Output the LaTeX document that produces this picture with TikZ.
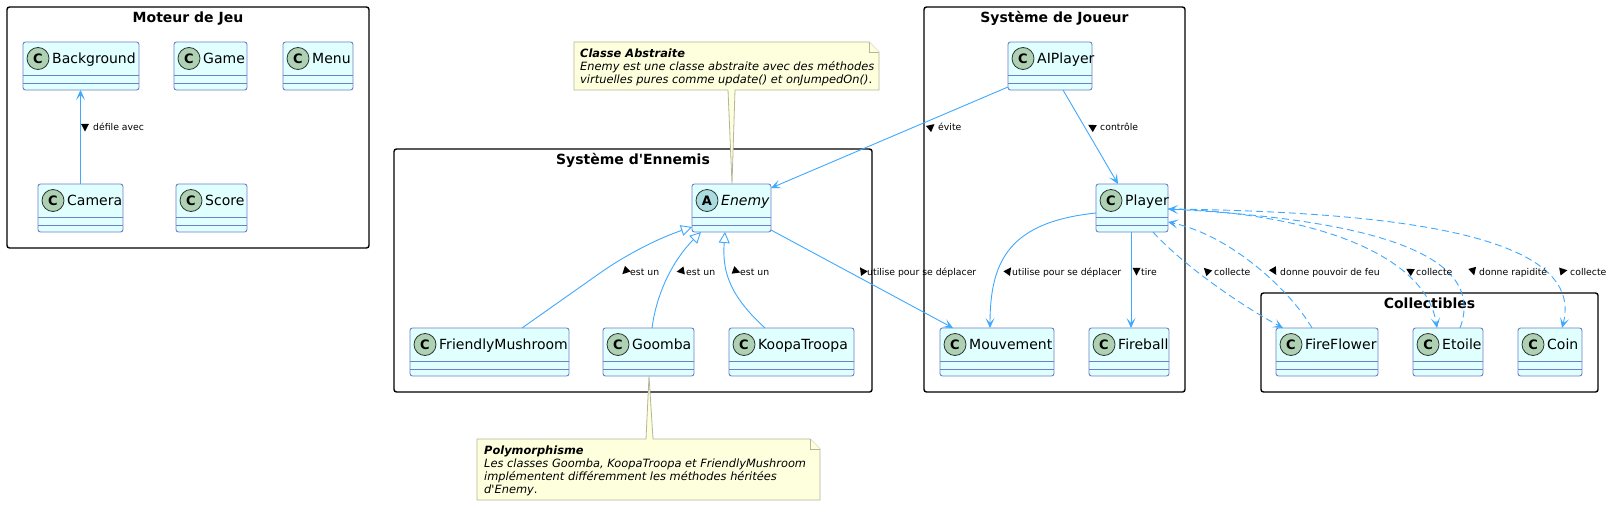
\documentclass[tikz,border=0pt]{standalone}
\usepackage{fontspec}
\setmainfont{DejaVu Sans}[BoldFont={DejaVu Sans Bold},ItalicFont={DejaVu Sans Oblique},BoldItalicFont={DejaVu Sans Bold Oblique}]
\usetikzlibrary{arrows.meta}
\definecolor{clsfill}{HTML}{E0FFFF}
\definecolor{clsline}{HTML}{6E7FC8}
\definecolor{arrowc}{HTML}{3FA9FF}
\definecolor{circC}{HTML}{ADD1B2}
\definecolor{circA}{HTML}{A9DCDF}
\definecolor{notefill}{HTML}{FEFFDD}
\definecolor{noteline}{HTML}{B5B59A}
\tikzset{
  clsbox/.style={draw=clsline, fill=clsfill, line width=0.9pt, rounded corners=2.5pt, minimum height=48pt, inner sep=0pt, outer sep=0pt},
  clssep/.style={draw=clsline, line width=0.9pt},
  circ/.style={circle, draw=black!80, line width=0.8pt, minimum size=22pt, inner sep=0pt, font=\fontsize{13}{13}\selectfont\bfseries},
  clsname/.style={anchor=base west, inner sep=0pt, font=\fontsize{14}{16}\selectfont},
  pkg/.style={draw=black, line width=1.4pt, rounded corners=2.5pt, anchor=north west, inner sep=0pt, outer sep=0pt},
  pkgtitle/.style={anchor=base, inner sep=0pt, font=\fontsize{14}{16}\selectfont\bfseries},
  lbl/.style={anchor=base west, inner sep=0pt, font=\fontsize{9.3}{11}\selectfont},
  assoc/.style={draw=arrowc, line width=0.9pt, -{Stealth[length=10pt,width=9pt,inset=5pt]}},
  dep/.style={assoc, dash pattern=on 7pt off 4pt},
  inh/.style={draw=arrowc, line width=0.9pt, -{Triangle[length=11pt,width=11pt,fill=white]}},
  notebg/.style={draw=noteline, fill=notefill, line width=0.8pt},
  notetxt/.style={anchor=base west, inner sep=0pt, font=\fontsize{11.4}{13}\selectfont\itshape},
  hold/.style={anchor=north west, inner sep=0pt, outer sep=0pt}
}
% #1 id, #2 left, #3 top, #4 width, #5 letter, #6 circle fill, #7 name
\newcommand\umlcls[7]{%
  \node[clsbox, minimum width=#4pt, anchor=north west] (#1) at (#2,#3) {};
  \draw[clssep] ([yshift=-33pt]#1.north west) -- ([yshift=-33pt]#1.north east)
                ([yshift=-41pt]#1.north west) -- ([yshift=-41pt]#1.north east);
  \node[circ, fill=#6] (#1-c) at ([xshift=15pt,yshift=-16.5pt]#1.north west) {#5};
  \node[clsname] (#1-n) at ([xshift=29pt,yshift=-21.5pt]#1.north west) {#7};
}
% direction marker: #1 x, #2 y, #3 angle
\newcommand\dmark[3]{%
  \fill[black, shift={(#1,#2)}, rotate=#3] (4.5pt,0pt) -- (-3.2pt,4pt) -- (-3.2pt,-4pt) -- cycle;
}
\begin{document}
\begin{tikzpicture}[x=1pt,y=-1pt]
\fill[white] (0,0) rectangle (1616,506);
\useasboundingbox (0,0) rectangle (1616,506);

% packages
\node[pkg, minimum width=362pt, minimum height=241pt] (pMoteur) at (7,7) {};
\node[pkgtitle] (pMoteur-t) at ([yshift=-15pt]pMoteur.north) {Moteur de Jeu};
\node[pkg, minimum width=478pt, minimum height=243pt] (pEnn) at (394,149) {};
\node[pkgtitle] (pEnn-t) at ([yshift=-15pt]pEnn.north) {Système d\textquotesingle Ennemis};
\node[pkg, minimum width=261pt, minimum height=385pt] (pJou) at (924,7) {};
\node[pkgtitle] (pJou-t) at ([yshift=-15pt]pJou.north) {Système de Joueur};
\node[pkg, minimum width=337pt, minimum height=99pt] (pCol) at (1261,293) {};
\node[pkgtitle] (pCol-t) at ([yshift=-15pt]pCol.north) {Collectibles};

% notes (placeholders)
\node[hold, minimum width=305pt, minimum height=48pt] (n1) at (574,42) {};
\node[hold, minimum width=343pt, minimum height=61pt] (n2) at (477,439) {};

% classes
\umlcls{bg}{23}{42}{116}{C}{circC}{Background}
\umlcls{game}{174}{42}{73}{C}{circC}{Game}
\umlcls{menu}{283}{42}{70}{C}{circC}{Menu}
\umlcls{cam}{38}{184}{85}{C}{circC}{Camera}
\umlcls{score}{176}{184}{71}{C}{circC}{Score}
\umlcls{en}{692}{184}{79}{A}{circA}{\itshape Enemy}
\umlcls{fm}{410}{328}{159}{C}{circC}{FriendlyMushroom}
\umlcls{gb}{603}{328}{91}{C}{circC}{Goomba}
\umlcls{kp}{729}{328}{125}{C}{circC}{KoopaTroopa}
\umlcls{ai}{1008}{42}{84}{C}{circC}{AIPlayer}
\umlcls{pl}{1096}{184}{72}{C}{circC}{Player}
\umlcls{mv}{940}{328}{114}{C}{circC}{Mouvement}
\umlcls{fb}{1089}{328}{80}{C}{circC}{Fireball}
\umlcls{ff}{1276}{328}{102}{C}{circC}{FireFlower}
\umlcls{et}{1413}{328}{70}{C}{circC}{Etoile}
\umlcls{co}{1518}{328}{64}{C}{circC}{Coin}

% note shapes with connectors
\draw[notebg] (n1.north west) -- ([xshift=-10pt]n1.north east) -- ([yshift=-10pt]n1.north east)
  -- (n1.south east) -- ([xshift=-144pt]n1.south east) -- ([xshift=40pt]en.north west)
  -- ([xshift=154pt]n1.south west) -- (n1.south west) -- cycle;
\draw[notebg] ([xshift=-10pt]n1.north east) -- ([xshift=-10pt,yshift=-10pt]n1.north east) -- ([yshift=-10pt]n1.north east);
\draw[notebg] (n2.north west) -- ([xshift=169pt]n2.north west) -- ([xshift=46pt]gb.south west)
  -- ([xshift=176pt]n2.north west) -- ([xshift=-10pt]n2.north east) -- ([yshift=-10pt]n2.north east)
  -- (n2.south east) -- (n2.south west) -- cycle;
\draw[notebg] ([xshift=-10pt]n2.north east) -- ([xshift=-10pt,yshift=-10pt]n2.north east) -- ([yshift=-10pt]n2.north east);

\node[notetxt, font=\fontsize{11.4}{13}\selectfont\bfseries\itshape] (n1a) at (580,57) {Classe Abstraite};
\node[notetxt] (n1b) at (580,70) {Enemy est une classe abstraite avec des méthodes};
\node[notetxt] (n1c) at (580,83) {virtuelles pures comme update() et onJumpedOn()\upshape.};
\node[notetxt, font=\fontsize{11.4}{13}\selectfont\bfseries\itshape] (n2a) at (484,454) {Polymorphisme};
\node[notetxt] (n2b) at (484,467) {Les classes Goomba, KoopaTroopa et FriendlyMushroom};
\node[notetxt] (n2c) at (484,480) {implémentent différemment les méthodes héritées};
\node[notetxt] (n2d) at (484,493) {d\textquotesingle Enemy\upshape.};

% edges
\draw[assoc] (cam.north) -- (cam.north |- bg.south);
\draw[assoc] ([yshift=-45pt]ai.north west) -- ([yshift=-4pt]en.north east);
\draw[assoc] ([xshift=55pt]ai.south west) -- ([xshift=22pt]pl.north west);
\draw[assoc] ([yshift=2pt]en.south east) -- ([xshift=13pt]mv.north west);
\draw[assoc] ([yshift=-29pt]pl.north west) .. controls (1010,222) and (990,260) .. ([xshift=50pt]mv.north west);
\draw[assoc] ([xshift=35pt]pl.south west) -- ([xshift=35pt]pl.south west |- fb.north);
\draw[dep] ([xshift=57pt]pl.south west) .. controls (1180,262) and (1235,302) .. ([xshift=7pt]ff.north west);
\draw[dep] ([xshift=36pt]ff.north west) .. controls (1290,290) and (1230,235) .. ([yshift=-38pt]pl.north east);
\draw[dep] ([yshift=-25pt]pl.north east) .. controls (1300,212) and (1425,250) .. ([xshift=24pt]et.north west);
\draw[dep] ([xshift=47pt]et.north west) .. controls (1482,270) and (1420,222) .. ([yshift=-25pt]pl.north east);
\draw[dep] ([yshift=-25pt]pl.north east) .. controls (1420,212) and (1585,240) .. ([xshift=44pt]co.north west);
\draw[inh] ([xshift=112pt]fm.north west) -- (600,273) .. controls (630,252) and (662,237) .. ([yshift=5pt]en.south west);
\draw[inh] ([xshift=49pt]gb.north west) .. controls (657,290) and (675,258) .. ([xshift=9pt]en.south west);
\draw[inh] ([xshift=36pt]kp.north west) .. controls (730,296) and (722,272) .. ([xshift=33pt]en.south west);

% labels
\dmark{85}{127}{-90}   \node[lbl] (l1) at (93,130.5) {défile avec};
\dmark{931}{127}{40}   \node[lbl] (l2) at (938,130.5) {évite};
\dmark{1092}{127}{150} \node[lbl] (l3) at (1100,130.5) {contrôle};
\dmark{625.5}{271}{225} \node[lbl] (l4) at (630,275) {est un};
\dmark{681}{271}{190}  \node[lbl] (l5) at (686,275) {est un};
\dmark{736}{271}{-20}  \node[lbl] (l6) at (740,275) {est un};
\dmark{862.5}{271}{125} \node[lbl] (l7) at (867,275) {utilise pour se déplacer};
\dmark{1008.5}{271}{55} \node[lbl] (l8) at (1012,275) {utilise pour se déplacer};
\dmark{1136.5}{271}{-90} \node[lbl] (l9) at (1141,275) {tire};
\dmark{1207}{271}{135} \node[lbl] (l10) at (1214,275) {collecte};
\dmark{1274}{271}{-60} \node[lbl] (l11) at (1280,275) {donne pouvoir de feu};
\dmark{1410}{271}{150} \node[lbl] (l12) at (1416,275) {collecte};
\dmark{1473}{271}{-75} \node[lbl] (l13) at (1479,275) {donne rapidité};
\dmark{1563}{271}{10}  \node[lbl] (l14) at (1570,275) {collecte};
\end{tikzpicture}
\end{document}
